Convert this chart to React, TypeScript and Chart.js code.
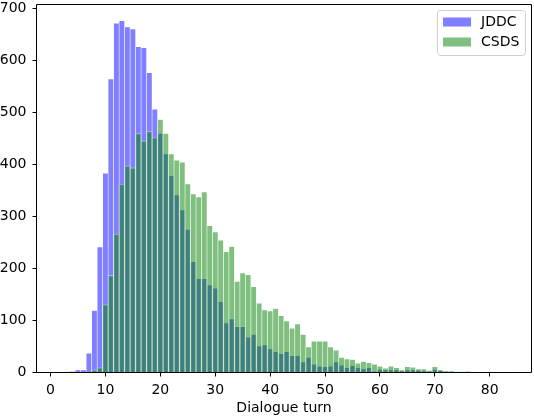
import React, { useEffect, useRef } from 'react';
import { Chart, registerables } from 'chart.js';

Chart.register(...registerables);

// Dialogue turns (histogram bins, width 1)
const turns = [
  2, 3, 4, 5, 6, 7, 8, 9, 10, 11, 12, 13, 14, 15, 16, 17, 18, 19, 20, 21,
  22, 23, 24, 25, 26, 27, 28, 29, 30, 31, 32, 33, 34, 35, 36, 37, 38, 39, 40, 41,
  42, 43, 44, 45, 46, 47, 48, 49, 50, 51, 52, 53, 54, 55, 56, 57, 58, 59, 60, 61,
  62, 63, 64, 65, 66, 67, 68, 69, 70, 71, 72, 73, 74, 75, 76, 77, 78, 79, 80, 81,
  82, 83,
];

const jddcCounts = [
  1, 1, 2, 5, 5, 37, 119, 241, 383, 564, 671, 676, 664, 660, 626, 624, 576, 506, 459, 420,
  378, 341, 312, 275, 213, 180, 180, 168, 162, 136, 95, 103, 88, 88, 68, 73, 51, 53, 45, 40,
  36, 40, 32, 32, 20, 29, 16, 12, 11, 12, 20, 14, 9, 13, 9, 7, 9, 2, 6, 5,
  5, 5, 3, 5, 5, 4, 3, 2, 6, 4, 2, 1, 1, 1, 2, 1, 0, 1, 1, 1,
  1, 1,
];

const csdsCounts = [
  0, 0, 0, 0, 0, 0, 5, 9, 130, 186, 266, 362, 397, 393, 459, 445, 463, 451, 486, 459,
  420, 408, 404, 362, 343, 337, 347, 282, 270, 254, 232, 242, 175, 191, 188, 165, 133, 120, 118, 123,
  109, 99, 85, 93, 73, 49, 60, 60, 60, 49, 43, 29, 26, 25, 18, 21, 19, 16, 12, 8,
  12, 9, 5, 11, 10, 7, 7, 4, 11, 5, 3, 3, 1, 1, 0, 0, 0, 0, 0, 0,
  0, 0,
];

const xTicks = [0, 10, 20, 30, 40, 50, 60, 70, 80];
const yTicks = [0, 100, 200, 300, 400, 500, 600, 700];

const seriesLabels = ['JDDC', 'CSDS'];
const FONT = '"DejaVu Sans", sans-serif';
const FS = 14;

const frameAndLegend = {
  id: 'frameAndLegend',
  afterDatasetsDraw(chart: any) {
    const { ctx, chartArea } = chart;
    const { left, right, top, bottom } = chartArea;
    ctx.save();
    ctx.strokeStyle = '#000';
    ctx.lineWidth = 1;
    ctx.beginPath();
    ctx.rect(left, top, right - left, bottom - top);
    ctx.stroke();
    ctx.restore();
  },
  afterDraw(chart: any) {
    const { ctx } = chart;
    const ds = chart.data.datasets;
    const bx = 437.5, by = 10.5, bw = 88, bh = 45;
    ctx.save();
    ctx.beginPath();
    if (ctx.roundRect) ctx.roundRect(bx, by, bw, bh, 3);
    else ctx.rect(bx, by, bw, bh);
    ctx.fillStyle = 'rgba(255,255,255,0.8)';
    ctx.fill();
    ctx.strokeStyle = '#d0d0d0';
    ctx.lineWidth = 1;
    ctx.stroke();
    ctx.font = `${FS}px ${FONT}`;
    ctx.textBaseline = 'middle';
    ctx.textAlign = 'left';
    ds.forEach((d: any, i: number) => {
      const cy = 22 + i * 20;
      ctx.fillStyle = d.backgroundColor;
      ctx.fillRect(443, cy - 4.5, 28, 9);
      ctx.fillStyle = '#000';
      ctx.fillText(d.label, 481, cy + 0.5);
    });
    ctx.restore();
  },
};

export default function App() {
  const ref = useRef<HTMLCanvasElement | null>(null);

  useEffect(() => {
    if (!ref.current) return;
    const chart = new Chart(ref.current, {
      type: 'bar',
      data: {
        datasets: [
          {
            label: seriesLabels[0],
            data: turns.map((t, i) => ({ x: t, y: jddcCounts[i] })),
            backgroundColor: 'rgba(0,0,255,0.5)',
            borderColor: 'rgba(255,255,255,0.6)',
            borderWidth: { left: 0.6, right: 0.6, top: 0.6, bottom: 0 },
            borderSkipped: false,
            grouped: false,
            barPercentage: 1,
            categoryPercentage: 1,
            order: 2,
          },
          {
            label: seriesLabels[1],
            data: turns.map((t, i) => ({ x: t, y: csdsCounts[i] })),
            backgroundColor: 'rgba(0,128,0,0.5)',
            borderColor: 'rgba(255,255,255,0.6)',
            borderWidth: { left: 0.6, right: 0.6, top: 0.6, bottom: 0 },
            borderSkipped: false,
            grouped: false,
            barPercentage: 1,
            categoryPercentage: 1,
            order: 1,
          },
        ],
      } as any,
      options: {
        animation: false,
        responsive: false,
        devicePixelRatio: 1,
        layout: { padding: { top: 4.5, right: 2.5, left: 0, bottom: 0 } },
        plugins: {
          legend: { display: false },
          tooltip: { enabled: false },
        },
        scales: {
          x: {
            type: 'linear',
            min: -2.55,
            max: 87.6,
            offset: false,
            afterBuildTicks: (axis: any) => {
              axis.ticks = xTicks.map((v) => ({ value: v }));
            },
            afterFit: (axis: any) => {
              axis.height = 43.5;
              axis.paddingLeft = 0;
              axis.paddingRight = 0;
            },
            grid: {
              display: true,
              offset: false,
              drawOnChartArea: false,
              drawTicks: true,
              tickLength: 4,
              color: '#000',
              tickColor: '#000',
            },
            border: { display: false },
            ticks: {
              color: '#000',
              padding: 5,
              maxRotation: 0,
              autoSkip: false,
              font: { family: FONT, size: FS },
            },
            title: {
              display: true,
              text: 'Dialogue turn',
              color: '#000',
              font: { family: FONT, size: FS },
              padding: { top: 0, bottom: -1 },
            },
          },
          y: {
            type: 'linear',
            min: 0,
            max: 707,
            afterBuildTicks: (axis: any) => {
              axis.ticks = yTicks.map((v) => ({ value: v }));
            },
            afterFit: (axis: any) => {
              axis.width = 36.5;
              axis.paddingTop = 0;
              axis.paddingBottom = 0;
            },
            grid: {
              display: true,
              drawOnChartArea: false,
              drawTicks: true,
              tickLength: 4,
              color: '#000',
              tickColor: '#000',
            },
            border: { display: false },
            ticks: {
              color: '#000',
              padding: 6,
              font: { family: FONT, size: FS },
            },
          },
        },
      } as any,
      plugins: [frameAndLegend],
    });
    return () => chart.destroy();
  }, []);

  return (
    <div style={{ position: 'fixed', left: 0, top: 0, width: 534, height: 416, background: '#fff' }}>
      <canvas ref={ref} width={534} height={416} style={{ width: 534, height: 416, display: 'block' }} />
    </div>
  );
}
